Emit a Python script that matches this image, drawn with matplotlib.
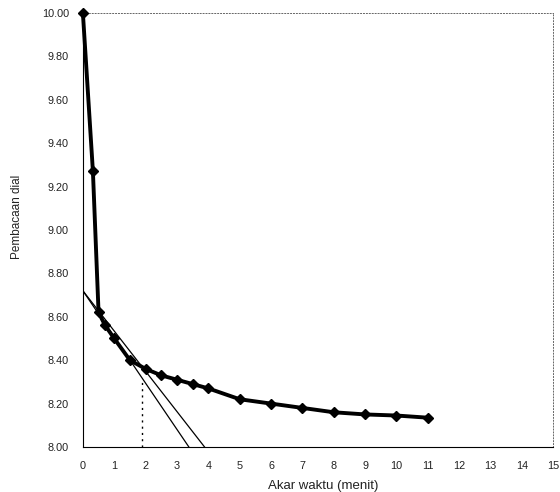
import numpy as np
import matplotlib
matplotlib.use("Agg")
import matplotlib.pyplot as plt

# akar waktu (sqrt of minutes) and dial readings
akar_waktu = [0, 0.32, 0.5, 0.71, 1, 1.5, 2, 2.5, 3, 3.5, 4, 5, 6, 7, 8, 9, 10, 11]
pembacaan = [10.00, 9.27, 8.62, 8.56, 8.50, 8.40, 8.36, 8.33, 8.31, 8.29, 8.27,
             8.22, 8.20, 8.18, 8.16, 8.15, 8.145, 8.135]

# Taylor construction: tangent line and 1.15x line, same intercept
garis_x0 = [0, 0]
garis_x1 = [3.38, 3.88]
garis_y0 = [8.72, 8.72]
garis_y1 = [8.00, 8.00]

# sqrt(t90) marker
akar_t90 = 1.9
dial_t90 = 8.31

x_ticks = list(range(0, 16))
y_ticks = [8.00, 8.20, 8.40, 8.60, 8.80, 9.00, 9.20, 9.40, 9.60, 9.80, 10.00]

plt.rcParams["font.family"] = ["Liberation Sans", "DejaVu Sans"]

fig = plt.figure(figsize=(5.6, 4.92), dpi=100)
ax = fig.add_axes([0.148, 0.0915, 0.84, 0.882])

# tangent lines
for xa, xb, ya, yb in zip(garis_x0, garis_x1, garis_y0, garis_y1):
    ax.plot([xa, xb], [ya, yb], color="black", linewidth=0.9, zorder=2)

# dotted t90 line
ax.plot([akar_t90, akar_t90], [8.00, dial_t90], color="black",
        linestyle=(0, (1.5, 3)), linewidth=1.0, zorder=2)

# data curve
ax.plot(akar_waktu, pembacaan, color="black", linewidth=2.8,
        marker="D", markersize=5.5, markerfacecolor="black",
        markeredgecolor="black", zorder=3, clip_on=False)

ax.set_xlim(0, 15)
ax.set_ylim(8.00, 10.00)
ax.set_xticks(x_ticks)
ax.set_yticks(y_ticks)
ax.set_yticklabels([f"{v:.2f}" for v in y_ticks])
ax.tick_params(axis="both", length=0, labelsize=7.8, colors="#222222")
ax.tick_params(axis="x", pad=10)
ax.tick_params(axis="y", pad=10)

ax.spines["left"].set_linewidth(0.8)
ax.spines["bottom"].set_linewidth(0.8)
for side in ["top", "right"]:
    ax.spines[side].set_linestyle((0, (1, 2)))
    ax.spines[side].set_linewidth(0.7)
    ax.spines[side].set_color("#666666")

ax.set_xlabel("Akar waktu (menit)", fontsize=9.5, color="#222222")
ax.xaxis.set_label_coords(0.51, -0.075)
ax.set_ylabel("Pembacaan dial", fontsize=8.5, color="#222222")
ax.yaxis.set_label_coords(-0.128, 0.53)

fig.savefig("out.png", dpi=100)
